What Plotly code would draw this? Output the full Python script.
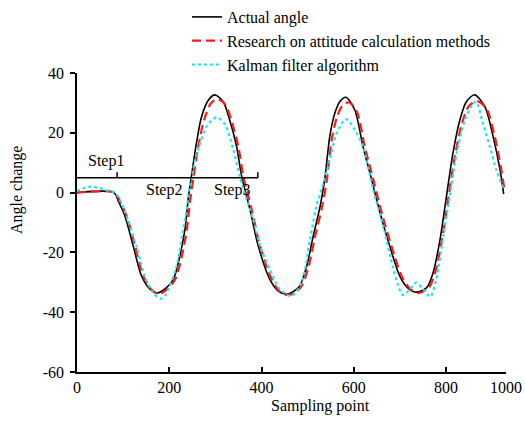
import plotly.graph_objects as go

# Sampling points and angle traces
actual_x = [0, 80, 90, 104, 122, 140, 158, 174, 194, 209, 223, 234, 241, 248, 259, 270, 285, 299,
            317, 331, 346, 357, 375, 393, 418, 437, 454, 470, 483, 498, 512, 527, 537, 548, 559,
            570, 583, 602, 620, 635, 657, 678, 700, 718, 736, 758, 772, 787, 801, 815, 830, 844,
            862, 884, 902, 917, 925]
actual_y = [0, 0, -3, -7.9, -17.9, -27.9, -32.3, -33.6, -31.8, -29, -21.2, -12.3, -2.3, 5.4, 16.6,
            25.4, 31, 32.7, 30.4, 24.3, 15.4, 5.4, -5.7, -17.9, -29, -33, -34, -33, -31.2, -24.6,
            -14.6, -4.6, 4.3, 18.8, 26.6, 30.5, 31.9, 27.7, 15.4, 6.6, -6.8, -17.9, -28, -32,
            -33.3, -31.8, -26.8, -15.7, -1.2, 13.2, 24.3, 30.4, 32.7, 28.8, 18.8, 7.7, -0.5]

research_x = [0, 82, 93, 108, 126, 144, 162, 178, 198, 213, 227, 238, 245, 252, 263, 275, 290, 303,
              321, 335, 350, 361, 379, 397, 422, 441, 458, 474, 487, 502, 516, 531, 541, 552, 563,
              575, 590, 607, 624, 639, 661, 682, 704, 722, 740, 762, 776, 791, 805, 819, 834, 849,
              867, 888, 906, 920, 927]
research_y = [0, 0, -3, -8, -18, -28, -32.5, -34, -32, -29, -21.5, -12.5, -3, 4.5, 15.5, 24, 29.8,
              31.3, 29.6, 24, 15.2, 5.2, -5.8, -18, -29, -33.3, -34.3, -33.2, -31.3, -24.8, -14.8,
              -5, 3.5, 17.5, 25, 29, 30.2, 27, 15.2, 6.4, -7, -18, -28, -32.2, -33.6, -32, -27,
              -16, -1.8, 12, 22.8, 28.8, 30.6, 28, 18.5, 7.5, 0.5]

kalman_x = [0, 15, 30, 50, 70, 82, 95, 110, 129, 147, 165, 182, 192, 201, 216, 230, 238, 243, 248,
            256, 266, 281, 303, 321, 339, 353, 368, 386, 397, 418, 440, 465, 487, 505, 519, 534,
            548, 563, 583, 602, 620, 642, 664, 680, 696, 707, 722, 735, 750, 766, 779, 794, 808,
            823, 841, 855, 865, 880, 895, 909, 924]
kalman_y = [0.5, 1.5, 2, 1.5, 0.5, 0, -3, -9, -18, -28, -33.5, -35.5, -34.3, -31.2, -24.6, -12.3,
            -5.7, 1, 4.3, 11, 16, 22.1, 25.2, 22.7, 14.3, 5.4, -2.3, -11.2, -17.9, -25.7, -32.3,
            -34.6, -30.1, -15.7, -4.6, 3.2, 11, 19.9, 24.6, 21, 15.4, 1, -11.2, -22, -31, -34.3,
            -32.3, -30.1, -32.3, -34.8, -29, -14.6, -1.2, 13.2, 24.3, 28.8, 30.4, 23.2, 15.4, 7.7,
            1.5]

x_tick_vals = [0, 200, 400, 600, 800, 930]
x_tick_text = ["0", "200", "400", "600", "800", "1000"]
y_tick_vals = [-60, -40, -20, 0, 20, 40]
y_tick_text = ["-60", "-40", "-20", "0", "20", "40"]

# Step marker axis: baseline level, extent, tick positions and labels
step_level = 5
step_end = 392
step_ticks = [87, 392]
step_labels = ["Step1", "Step2", "Step3"]
step_label_x = [62, 189, 336]
step_label_y = [10.7, 1, 1]

FONT = "Liberation Serif, Times New Roman, serif"
FS = 16

W, H = 525, 423
ML, MR, MT, MB = 77, 19, 73, 51
PW, PH = W - ML - MR, H - MT - MB


def px_to_paper_x(px):
    return (px - ML) / PW


def px_to_paper_y(py):
    return (H - MB - py) / PH


fig = go.Figure()
fig.add_trace(go.Scatter(x=actual_x, y=actual_y, mode="lines", name="Actual angle",
                         line=dict(color="black", width=1.6, shape="spline", smoothing=0.8),
                         legendgroup="a"))
fig.add_trace(go.Scatter(x=research_x, y=research_y, mode="lines",
                         name="Research on attitude calculation methods",
                         line=dict(color="#ff1a1a", width=2.2, dash="9px,5px", shape="spline",
                                   smoothing=0.8),
                         legendgroup="b"))
fig.add_trace(go.Scatter(x=kalman_x, y=kalman_y, mode="lines", name="Kalman filter algorithm",
                         line=dict(color="#19e6ef", width=2.2, dash="dot", shape="spline",
                                   smoothing=0.8),
                         legendgroup="c"))

# Step marker axis line and its tick marks
fig.add_shape(type="line", x0=0, x1=step_end, y0=step_level, y1=step_level,
              xref="x", yref="y", line=dict(color="black", width=1.5))
for t in step_ticks:
    fig.add_shape(type="line", x0=t, x1=t, y0=step_level, y1=step_level + 1.8,
                  xref="x", yref="y", line=dict(color="black", width=1.5))
for lab, lx, ly in zip(step_labels, step_label_x, step_label_y):
    fig.add_annotation(x=lx, y=ly, xref="x", yref="y", text=lab, showarrow=False,
                       xanchor="center", yanchor="middle",
                       font=dict(family=FONT, size=FS, color="black"))

# Axis titles
fig.add_annotation(x=px_to_paper_x(320), y=px_to_paper_y(406), xref="paper", yref="paper",
                   text="Sampling point", showarrow=False, xanchor="center", yanchor="middle",
                   font=dict(family=FONT, size=FS, color="black"))
fig.add_annotation(x=px_to_paper_x(17), y=px_to_paper_y(190), xref="paper", yref="paper",
                   text="Angle change", textangle=-90, showarrow=False,
                   xanchor="center", yanchor="middle",
                   font=dict(family=FONT, size=FS, color="black"))

fig.update_layout(
    width=W, height=H,
    margin=dict(l=ML, r=MR, t=MT, b=MB, autoexpand=False),
    paper_bgcolor="white", plot_bgcolor="white",
    font=dict(family=FONT, size=FS, color="black"),
    showlegend=True,
    legend=dict(x=px_to_paper_x(187), y=px_to_paper_y(0),
                xanchor="left", yanchor="top", bgcolor="rgba(0,0,0,0)",
                tracegroupgap=0, font=dict(family=FONT, size=FS)),
    xaxis=dict(range=[0, 930], tickvals=x_tick_vals, ticktext=x_tick_text,
               showgrid=False, zeroline=False, showline=True, linecolor="black", linewidth=1.5,
               ticks="inside", ticklen=5, tickwidth=1.5, tickcolor="black",
               ticklabelstandoff=0),
    yaxis=dict(range=[-60, 40], tickvals=y_tick_vals, ticktext=y_tick_text,
               showgrid=False, zeroline=False, showline=True, linecolor="black", linewidth=1.5,
               ticks="outside", ticklen=5, tickwidth=1.5, tickcolor="black",
               ticklabelstandoff=3),
)

fig.write_html("out.html")
